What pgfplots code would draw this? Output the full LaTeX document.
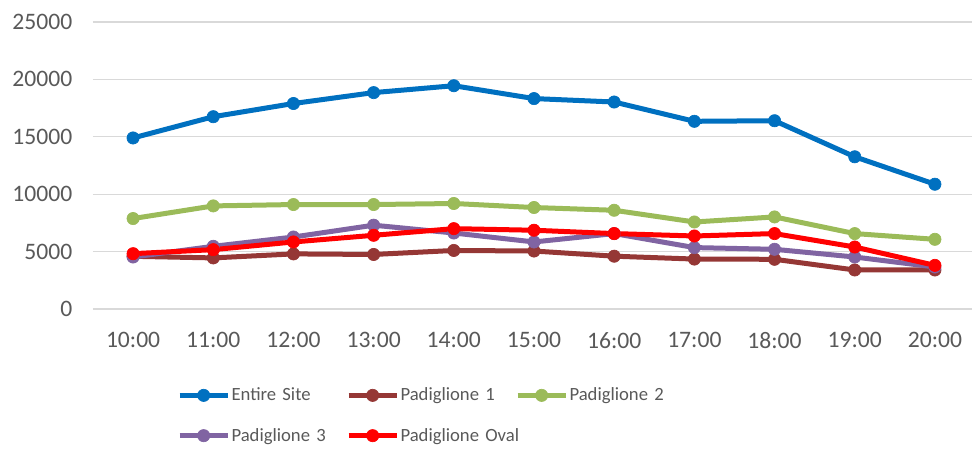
\documentclass[border=0pt]{standalone}
\usepackage{pgfplots}
\pgfplotsset{compat=1.18}
\usepackage{fontspec}
\setmainfont{Carlito}
\definecolor{cBlue}{HTML}{0070C0}
\definecolor{cBrown}{HTML}{953735}
\definecolor{cGreen}{HTML}{9BBB59}
\definecolor{cPurple}{HTML}{8064A2}
\definecolor{cRed}{HTML}{FF0000}
\definecolor{cText}{HTML}{595959}
\definecolor{cGrid}{HTML}{D9D9D9}
\begin{document}
\begin{tikzpicture}
\path[use as bounding box] (-69.75pt,-105.75pt) rectangle (659.25pt,231.75pt);
\begin{axis}[
  scale only axis,
  width=661.5pt, height=215.25pt,
  xmin=-0.5, xmax=10.5,
  ymin=0, ymax=25000,
  xtick={0,...,10},
  xticklabels={10:00,11:00,12:00,13:00,14:00,15:00,16:00,17:00,18:00,19:00,20:00},
  ytick={0,5000,10000,15000,20000,25000},
  scaled ticks=false,
  axis line style={draw=none},
  major tick length=0pt,
  ymajorgrids,
  grid style={cGrid, line width=0.9pt},
  tick label style={font=\fontsize{17.7}{21}\selectfont, text=cText},
  /pgf/number format/assume math mode=true,
  /pgf/number format/1000 sep={},
  yticklabel style={xshift=-12pt},
  xticklabel style={yshift=-14pt},
  every axis plot/.append style={line width=3.75pt, mark=*, mark size=4.6pt, mark options={solid, line width=0.5pt}},
  legend columns=3,
  legend style={at={(axis description cs:0.0906,-0.26)}, anchor=north west, draw=none, fill=none,
    font=\fontsize{14}{17}\selectfont, text=cText, row sep=17pt,
    nodes={text width=85pt, align=left, inner sep=1pt}},
  legend cell align=left,
  legend image code/.code={
    \draw[mark repeat=2,mark phase=2] plot coordinates {(0pt,0pt) (18pt,0pt) (36pt,0pt)};
  },
]
\addplot[color=cBlue] coordinates {(0,14900) (1,16750) (2,17900) (3,18850) (4,19450) (5,18330) (6,18030) (7,16350) (8,16400) (9,13260) (10,10870)};
\addlegendentry{Entire Site}
\addplot[color=cBrown] coordinates {(0,4590) (1,4450) (2,4800) (3,4750) (4,5100) (5,5050) (6,4600) (7,4350) (8,4330) (9,3400) (10,3400)};
\addlegendentry{Padiglione 1}
\addplot[color=cGreen] coordinates {(0,7880) (1,8980) (2,9100) (3,9100) (4,9190) (5,8840) (6,8600) (7,7580) (8,8020) (9,6570) (10,6070)};
\addlegendentry{Padiglione 2}
\addplot[color=cPurple] coordinates {(0,4530) (1,5460) (2,6270) (3,7300) (4,6620) (5,5840) (6,6570) (7,5350) (8,5200) (9,4530) (10,3660)};
\addlegendentry{Padiglione 3}
\addplot[color=cRed] coordinates {(0,4820) (1,5170) (2,5840) (3,6420) (4,7000) (5,6860) (6,6570) (7,6360) (8,6570) (9,5400) (10,3800)};
\addlegendentry{\mbox{Padiglione Oval}}
\end{axis}
\end{tikzpicture}
\end{document}
